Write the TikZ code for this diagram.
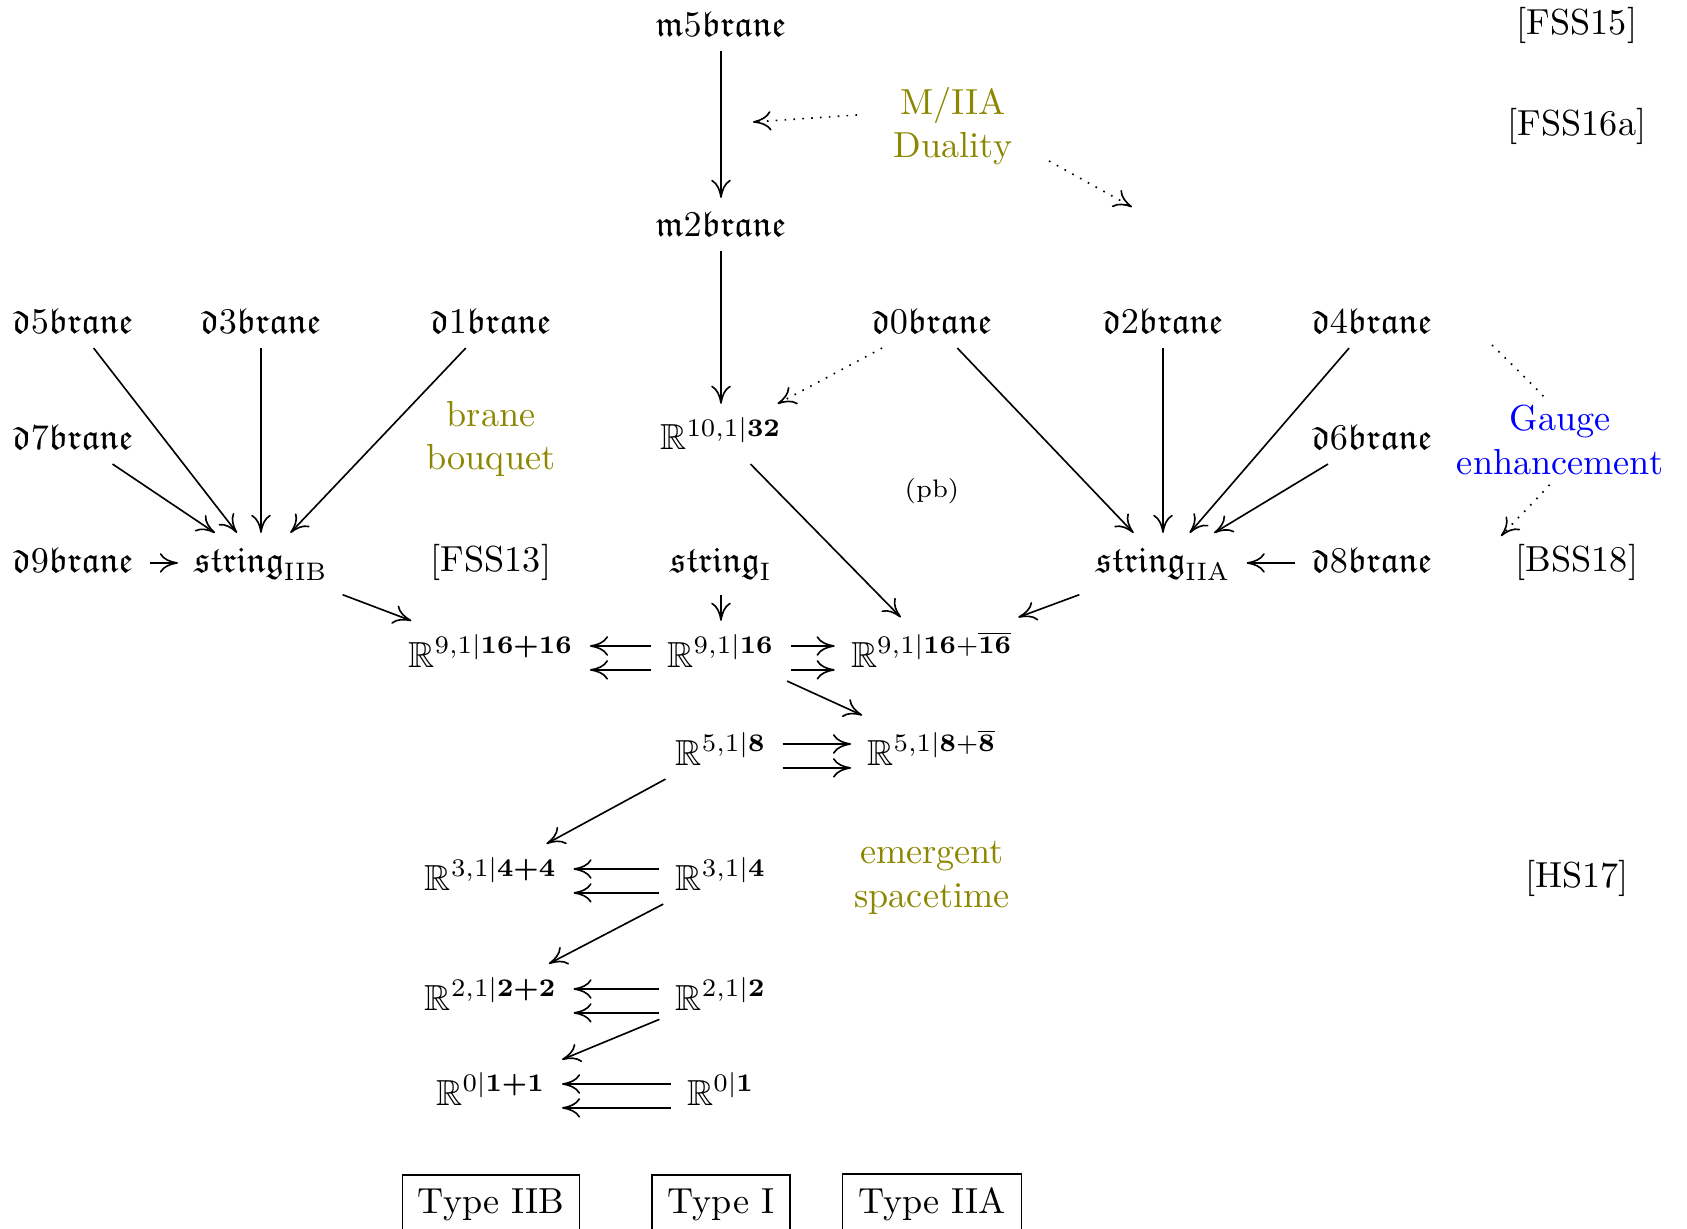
\documentclass[tikz,border=0pt]{standalone}
\usepackage{amsmath,amssymb}
\usetikzlibrary{arrows.meta}
\definecolor{labelolive}{RGB}{140,135,0}
% brane names: fraktur letters around a lining digit
\newcommand{\brn}[2]{\mathfrak{#1}#2\mathfrak{brane}}
\newcommand{\strg}{\mathfrak{string}}
\begin{document}
\begin{tikzpicture}[x=0.2762pt,y=-0.2762pt,line width=0.45pt,
  cell/.style={anchor=base,inner xsep=1ex,inner ysep=0.85ex},
  note/.style={align=center,inner sep=2pt,text=labelolive},
  ref/.style={anchor=base,inner sep=2pt},
  typebox/.style={draw,line width=0.4pt,anchor=base,inner xsep=1ex,inner ysep=0.85ex},
  arr/.style={-{Computer Modern Rightarrow[length=5pt,width=5.4pt]}},
  darr/.style={arr,dotted}]
\useasboundingbox (0,0) rectangle (1687,1229);

% M-branes
\node[cell] (m5) at (721,37) {$\brn{m}{5}$};
\node[cell] (m2) at (721,237) {$\brn{m}{2}$};

% D-branes, first row
\node[cell] (d5) at (73,334) {$\brn{d}{5}$};
\node[cell] (d3) at (261,334) {$\brn{d}{3}$};
\node[cell] (d1) at (491,334) {$\brn{d}{1}$};
\node[cell] (d0) at (932,334) {$\brn{d}{0}$};
\node[cell] (d2) at (1163,334) {$\brn{d}{2}$};
\node[cell] (d4) at (1372,334) {$\brn{d}{4}$};

% second row
\node[cell] (d7) at (73,450) {$\brn{d}{7}$};
\node[cell] (R10) at (721,450) {$\mathbb{R}^{10,1\vert\mathbf{32}}$};
\node[cell] (d6) at (1372,450) {$\brn{d}{6}$};

% strings
\node[cell] (d9) at (73,572) {$\brn{d}{9}$};
\node[cell] (sIIB) at (261,572) {$\strg_{\mathrm{IIB}}$};
\node[cell] (sI) at (721,572) {$\strg_{\mathrm{I}}$};
\node[cell] (sIIA) at (1163,572) {$\strg_{\mathrm{IIA}}$};
\node[cell] (d8) at (1372,572) {$\brn{d}{8}$};

% super-spacetimes
\node[cell] (R9a) at (491,667) {$\mathbb{R}^{9,1\vert\boldsymbol{16+16}}$};
\node[cell] (R9) at (721,667) {$\mathbb{R}^{9,1\vert\boldsymbol{16}}$};
\node[cell] (R9b) at (932,667) {$\mathbb{R}^{9,1\vert\boldsymbol{16}+\overline{\boldsymbol{16}}}$};
\node[cell] (R5) at (721,765) {$\mathbb{R}^{5,1\vert\boldsymbol{8}}$};
\node[cell] (R5b) at (932,765) {$\mathbb{R}^{5,1\vert\boldsymbol{8}+\overline{\boldsymbol{8}}}$};
\node[cell] (R3a) at (491,890) {$\mathbb{R}^{3,1\vert\boldsymbol{4+4}}$};
\node[cell] (R3) at (721,890) {$\mathbb{R}^{3,1\vert\boldsymbol{4}}$};
\node[cell] (R2a) at (491,1010) {$\mathbb{R}^{2,1\vert\boldsymbol{2+2}}$};
\node[cell] (R2) at (721,1010) {$\mathbb{R}^{2,1\vert\boldsymbol{2}}$};
\node[cell] (R0a) at (491,1105) {$\mathbb{R}^{0\vert\boldsymbol{1+1}}$};
\node[cell] (R0) at (721,1105) {$\mathbb{R}^{0\vert\boldsymbol{1}}$};

% string types
\node[typebox] (tIIB) at (491,1213) {Type IIB};
\node[typebox] (tI) at (721,1213) {Type I};
\node[typebox] (tIIA) at (932,1213) {Type IIA};

% side notes
\node[note] (duality) at (953,126) {M/IIA\\Duality};
\node[note] (bouquet) at (491,439) {brane\\bouquet};
\node[note] (emergent) at (932,878) {emergent\\spacetime};
\node[inner sep=1pt] (pb) at (932,491) {\scriptsize (pb)};

% references
\node[ref] (fss15) at (1577,35) {[FSS15]};
\node[ref] (fss16a) at (1577,136) {[FSS16a]};
\node[ref] (fss13) at (491,571) {[FSS13]};
\node[ref] (bss18) at (1577,571) {[BSS18]};
\node[ref] (hs17) at (1577,887) {[HS17]};

% M-brane and D-brane maps
\draw[arr] (m5) -- (m2);
\draw[arr] (m2) -- (R10);
\draw[darr] (d0) -- (R10);
\draw[arr] (d0) -- (sIIA);
\draw[arr] (d2) -- (sIIA);
\draw[arr] (d4) -- (sIIA);
\draw[arr] (d6) -- (sIIA);
\draw[arr] ([yshift=2.5pt]d8.base west) -- ([yshift=2.5pt]sIIA.base east);
\draw[arr] (d5) -- (sIIB);
\draw[arr] (d3) -- (sIIB);
\draw[arr] (d1) -- (sIIB);
\draw[arr] (d7) -- (sIIB);
\draw[arr] ([yshift=2.5pt]d9.base east) -- ([yshift=2.5pt]sIIB.base west);

% strings to spacetimes
\draw[arr] (sIIB) -- (R9a);
\draw[arr] (sI) -- (R9);
\draw[arr] (R10) -- (R9b);
\draw[arr] (sIIA) -- (R9b);

% emergent spacetime tower
\foreach \src/\dst in {R9/R9a,R3/R3a,R2/R2a,R0/R0a}{
  \draw[arr] ([yshift=5.8pt]\src.base west) -- ([yshift=5.8pt]\dst.base east);
  \draw[arr] ([yshift=-0.8pt]\src.base west) -- ([yshift=-0.8pt]\dst.base east);
}
\foreach \src/\dst in {R9/R9b,R5/R5b}{
  \draw[arr] ([yshift=5.8pt]\src.base east) -- ([yshift=5.8pt]\dst.base west);
  \draw[arr] ([yshift=-0.8pt]\src.base east) -- ([yshift=-0.8pt]\dst.base west);
}
\draw[arr] (R9) -- (R5b);
\draw[arr] (R5) -- (R3a);
\draw[arr] (R3) -- (R2a);
\draw[arr] (R2) -- (R0a);

% duality arrows
\coordinate (duA) at (857,115);
\coordinate (duB) at (753,122);
\coordinate (duC) at (1049,161);
\coordinate (duD) at (1132,207);
\draw[darr] (duA) -- (duB);
\draw[darr] (duC) -- (duD);

% gauge enhancement
\coordinate (geA) at (1492,345);
\coordinate (geB) at (1501,536);
\draw[darr] (geA) .. controls (1602,453) and (1593,438) .. (geB);
\node[align=center,fill=white,inner sep=2pt,text=blue] (gauge) at (1560,440) {Gauge\\enhancement};
\end{tikzpicture}
\end{document}
